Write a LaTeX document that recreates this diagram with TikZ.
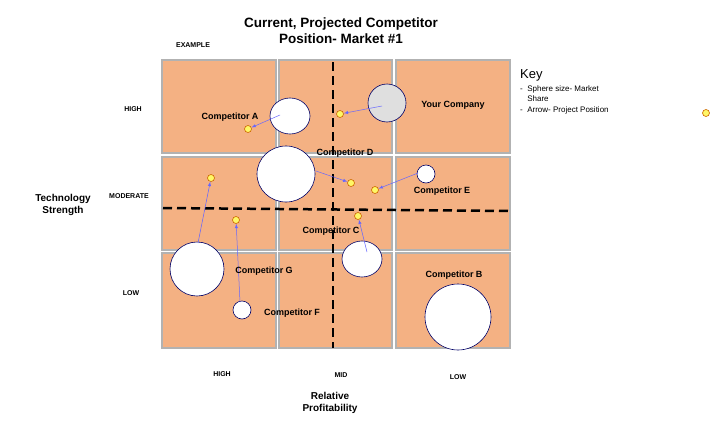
\documentclass[tikz,border=0pt]{standalone}
\usepackage{fontspec}
\setmainfont{Liberation Sans}
\begin{document}
\begin{tikzpicture}[x=1pt,y=-1pt,
 cell/.style={fill=orange!45!brown!20!orange!50!white, draw=gray!60, line width=1.2pt},
 bub/.style={draw=blue!40!black, fill=white, line width=0.6pt},
 dot/.style={circle, draw=orange!80!black, fill=yellow!60, inner sep=0pt, minimum size=7pt, line width=0.6pt},
 arr/.style={-latex, draw=blue!60!white, line width=0.5pt},
 lab/.style={font=\bfseries\fontsize{9}{10}\selectfont, inner sep=0pt},
 ax/.style={font=\bfseries\fontsize{7}{8}\selectfont, inner sep=0pt},
 dsh/.style={line width=2.5pt, dash pattern=on 9pt off 5pt}]
\useasboundingbox (0,0) rectangle (711,436);
\definecolor{cellc}{HTML}{F4B183}
\foreach \x/\xx in {162/276,279/392,396/510}
 \foreach \y/\yy in {60/153,157/250,253/348}
  \draw[cell, fill=cellc] (\x,\y) rectangle (\xx,\yy);
\draw[dsh] (333,62) -- (333,348);
\draw[dsh] (163,208) -- (512,211);
% bubbles
\draw[bub] (290,116) ellipse (20 and 18); \coordinate (a) at (280,115);
\draw[bub, fill=gray!25] (387,103) circle (19); \coordinate (y) at (382,106);
\draw[bub] (286,174) ellipse (29 and 28); \coordinate (d) at (316,171);
\draw[bub] (426,174) circle (9); \coordinate (e) at (418,173);
\draw[bub] (197,269) circle (27); \coordinate (g) at (198,243);
\draw[bub] (362,259) ellipse (20 and 18); \coordinate (c) at (367,252);
\draw[bub] (242,310) circle (9); \coordinate (f) at (240,302);
\draw[bub] (458,317) circle (33);
% dots
\node[dot] (ad) at (248,129) {};
\node[dot] (yd) at (340,114) {};
\node[dot] (dd) at (351,183) {};
\node[dot] (ed) at (375,190) {};
\node[dot] (gd) at (211,178) {};
\node[dot] (fd) at (236,220) {};
\node[dot] (cd) at (358,216) {};
\node[dot] (kd) at (706,113) {};
\draw[arr] (a) -- (ad); \draw[arr] (y) -- (yd); \draw[arr] (d) -- (dd);
\draw[arr] (e) -- (ed); \draw[arr] (g) -- (gd); \draw[arr] (f) -- (fd);
\draw[arr] (c) -- (cd);
% labels
\node[lab] (la) at (230,117) {Competitor A};
\node[lab] (ly) at (453,105) {Your Company};
\node[lab] (ld) at (345,153) {Competitor D};
\node[lab] (le) at (442,191) {Competitor E};
\node[lab] (lc) at (331,231) {Competitor C};
\node[lab] (lg) at (264,271) {Competitor G};
\node[lab] (lf) at (292,313) {Competitor F};
\node[lab] (lb) at (454,275) {Competitor B};
% titles
\node[font=\bfseries\fontsize{13.5}{16}\selectfont, align=center] (t) at (341,31) {Current, Projected Competitor\\Position- Market \#1};
\node[ax] (ex) at (193,45) {EXAMPLE};
\node[ax] (h) at (133,109) {HIGH};
\node[ax] (m) at (129,196) {MODERATE};
\node[ax] (l) at (131,293) {LOW};
\node[font=\bfseries\fontsize{10}{12}\selectfont, align=center] (ts) at (63,205) {Technology\\Strength};
\node[ax] (h2) at (222,374) {HIGH};
\node[ax] (m2) at (341,375) {MID};
\node[ax] (l2) at (458,377) {LOW};
\node[font=\bfseries\fontsize{10}{12}\selectfont, align=center] (rp) at (330,403) {Relative\\Profitability};
\node[anchor=west, font=\fontsize{13}{15}\selectfont, inner sep=0pt] (k) at (520,75) {Key};
\node[anchor=north west, font=\fontsize{8}{10}\selectfont, align=left, inner sep=0pt] (kt) at (520,86)
 {-\ \ Sphere size- Market\\\phantom{-\ \ }Share\\[1pt]-\ \ Arrow- Project Position};
\end{tikzpicture}
\end{document}
